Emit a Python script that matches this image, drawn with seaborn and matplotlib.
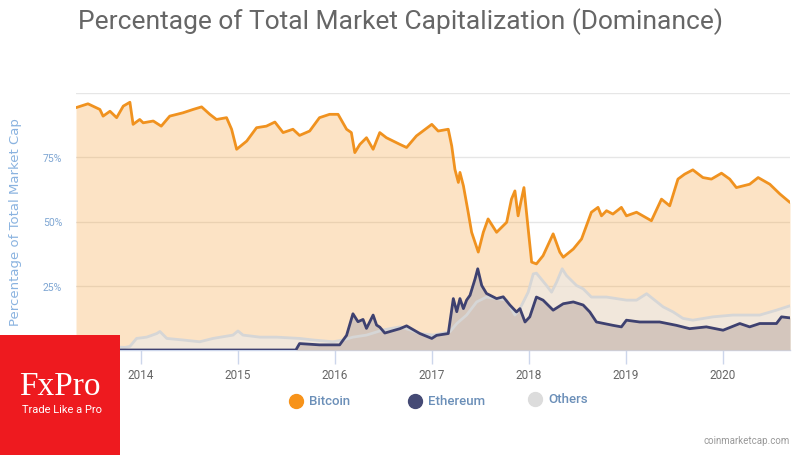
import matplotlib
matplotlib.use("Agg")
import matplotlib.pyplot as plt
from matplotlib.lines import Line2D
from matplotlib.patches import Rectangle
import pandas as pd
import seaborn as sns

# ---------------- data ----------------
btc_dates = ["2013-05-01", "2013-06-15", "2013-07-30", "2013-08-11", "2013-09-06", "2013-10-01",
             "2013-10-26", "2013-11-20", "2013-12-02", "2013-12-27", "2014-01-09", "2014-02-16",
             "2014-03-18", "2014-04-19", "2014-06-08", "2014-07-16", "2014-08-17", "2014-09-17",
             "2014-10-12", "2014-11-19", "2014-12-08", "2014-12-27", "2015-02-03", "2015-03-12",
             "2015-04-18", "2015-05-20", "2015-06-20", "2015-07-27", "2015-08-21", "2015-09-28",
             "2015-11-04", "2015-12-12", "2016-01-13", "2016-02-14", "2016-03-03", "2016-03-16",
             "2016-04-04", "2016-04-29", "2016-05-24", "2016-06-18", "2016-07-13", "2016-09-02",
             "2016-09-27", "2016-11-03", "2016-12-31", "2017-01-24", "2017-03-03", "2017-03-16",
             "2017-03-28", "2017-04-10", "2017-04-16", "2017-04-29", "2017-05-17", "2017-05-30",
             "2017-06-24", "2017-07-13", "2017-07-31", "2017-09-01", "2017-10-09", "2017-10-27",
             "2017-11-09", "2017-11-21", "2017-12-01", "2017-12-13", "2017-12-29", "2018-01-11",
             "2018-01-29", "2018-02-23", "2018-04-02", "2018-04-27", "2018-05-10", "2018-06-17",
             "2018-07-18", "2018-08-24", "2018-09-18", "2018-10-01", "2018-10-20", "2018-11-13",
             "2018-12-15", "2019-01-03", "2019-02-10", "2019-04-07", "2019-05-15", "2019-06-15",
             "2019-07-16", "2019-08-10", "2019-09-10", "2019-10-18", "2019-11-19", "2019-12-27",
             "2020-01-27", "2020-02-21", "2020-04-11", "2020-05-13", "2020-06-26", "2020-08-03",
             "2020-09-10"]
btc_values = [94.3, 95.8, 93.6, 91.0, 92.9, 90.4,
              94.9, 96.4, 87.8, 89.7, 88.4, 89.1,
              87.1, 91.0, 92.3, 93.6, 94.6, 91.7,
              89.7, 90.4, 85.9, 78.1, 81.3, 86.5,
              87.1, 88.7, 84.6, 85.9, 83.5, 85.2,
              90.4, 91.7, 91.7, 85.9, 84.6, 76.8,
              80.0, 82.6, 78.1, 84.6, 82.6, 80.0,
              78.8, 83.3, 87.8, 85.2, 85.9, 79.4,
              70.3, 65.2, 69.1, 63.9, 53.6, 45.8,
              38.1, 45.8, 51.0, 45.8, 49.7, 58.7,
              61.9, 52.2, 57.4, 63.2, 47.1, 34.2,
              33.5, 36.7, 45.2, 38.1, 36.1, 39.3,
              43.2, 53.6, 55.5, 52.2, 54.2, 52.9,
              55.5, 52.2, 53.6, 50.3, 58.7, 56.1,
              66.5, 68.4, 70.1, 67.1, 66.5, 68.8,
              66.5, 63.2, 64.5, 67.1, 64.5, 60.7,
              57.4]

eth_dates = ["2013-05-01", "2015-08-07", "2015-08-21", "2015-11-04", "2016-01-19", "2016-02-14",
             "2016-03-09", "2016-03-28", "2016-04-16", "2016-04-29", "2016-05-24", "2016-06-06",
             "2016-06-18", "2016-07-07", "2016-09-02", "2016-09-27", "2016-11-16", "2016-12-31",
             "2017-01-18", "2017-03-03", "2017-03-22", "2017-04-04", "2017-04-16", "2017-04-29",
             "2017-05-11", "2017-05-24", "2017-06-12", "2017-06-22", "2017-07-07", "2017-07-25",
             "2017-09-01", "2017-09-26", "2017-10-21", "2017-11-15", "2017-11-28", "2017-12-17",
             "2018-01-04", "2018-01-29", "2018-02-23", "2018-04-02", "2018-05-10", "2018-06-17",
             "2018-07-24", "2018-08-18", "2018-09-12", "2018-11-13", "2018-12-15", "2019-01-03",
             "2019-02-22", "2019-05-08", "2019-07-10", "2019-08-29", "2019-10-31", "2020-01-02",
             "2020-03-05", "2020-04-11", "2020-05-19", "2020-07-21", "2020-08-09", "2020-09-10"]
eth_values = [0.0, 0.0, 2.5, 2.0, 2.0, 5.7,
              14.1, 11.0, 11.9, 8.4, 13.6, 9.7,
              8.9, 6.6, 8.3, 9.4, 6.4, 4.5,
              5.7, 6.4, 20.0, 14.9, 20.0, 16.1,
              19.4, 21.3, 27.7, 31.6, 25.1, 22.0,
              20.0, 20.7, 17.5, 14.8, 16.1, 10.9,
              12.9, 20.6, 19.4, 15.5, 18.0, 18.7,
              17.5, 14.8, 10.9, 9.6, 9.0, 11.6,
              10.9, 10.9, 9.6, 8.3, 9.0, 7.7,
              10.3, 9.0, 10.3, 10.3, 12.9, 12.5]

oth_dates = ["2013-05-01", "2013-11-01", "2013-11-20", "2013-12-15", "2014-01-22", "2014-03-01",
             "2014-03-13", "2014-04-08", "2014-06-08", "2014-08-10", "2014-09-29", "2014-12-13",
             "2015-01-01", "2015-01-20", "2015-03-25", "2015-05-27", "2015-08-21", "2015-10-11",
             "2015-12-25", "2016-02-01", "2016-03-09", "2016-04-29", "2016-07-01", "2016-09-02",
             "2016-10-10", "2016-11-16", "2017-01-06", "2017-03-09", "2017-04-04", "2017-05-11",
             "2017-06-18", "2017-07-25", "2017-09-01", "2017-10-09", "2017-11-09", "2017-11-28",
             "2017-12-29", "2018-01-17", "2018-01-29", "2018-03-08", "2018-03-27", "2018-04-15",
             "2018-05-06", "2018-05-22", "2018-06-29", "2018-07-24", "2018-08-24", "2018-10-20",
             "2019-01-03", "2019-02-10", "2019-03-20", "2019-05-21", "2019-06-28", "2019-08-04",
             "2019-09-10", "2019-11-25", "2020-02-08", "2020-05-19", "2020-07-21", "2020-09-10"]
oth_values = [2.0, 1.0, 1.4, 4.5, 5.0, 6.4,
              7.2, 4.5, 3.9, 3.2, 4.5, 5.8,
              7.4, 5.8, 5.0, 5.0, 4.5, 3.9,
              3.2, 3.9, 5.0, 5.8, 7.8, 9.0,
              7.8, 6.4, 5.8, 7.1, 10.3, 13.6,
              18.7, 20.6, 20.0, 19.4, 13.6, 16.1,
              22.5, 29.6, 29.9, 25.1, 22.5, 26.4,
              31.6, 29.0, 25.1, 23.8, 20.6, 20.6,
              19.4, 19.4, 21.9, 16.8, 14.8, 12.3,
              11.6, 12.9, 13.6, 13.6, 15.5, 17.2]

series_names = ["Bitcoin", "Ethereum", "Others"]
year_ticks = ["2014", "2015", "2016", "2017", "2018", "2019", "2020"]
y_ticks = [0, 25, 50, 75, 100]
y_tick_labels = ["0%", "25%", "50%", "75%", ""]

# ---------------- styling ----------------
sns.set_theme(style="white")
FONT = ["Roboto", "DejaVu Sans"]
plt.rcParams["font.family"] = FONT

line_colors = {"Bitcoin": "#f0921f", "Ethereum": "#3e4170", "Others": "#d6d6d6"}
legend_colors = {"Bitcoin": "#f7931a", "Ethereum": "#454a75", "Others": "#dcdcdc"}

btc = pd.DataFrame({"date": pd.to_datetime(btc_dates), "value": btc_values})
eth = pd.DataFrame({"date": pd.to_datetime(eth_dates), "value": eth_values})
oth = pd.DataFrame({"date": pd.to_datetime(oth_dates), "value": oth_values})

fig = plt.figure(figsize=(8, 4.56), dpi=100)
ax = fig.add_axes([76 / 800, 1 - 351 / 456, 714 / 800, 257 / 456])

# grid
ax.set_axisbelow(True)
ax.yaxis.grid(True, color="#e6e6e6", linewidth=1)
ax.xaxis.grid(False)

# fills
ax.fill_between(btc["date"], 0, btc["value"], color="#f7931a", alpha=0.25, linewidth=0, zorder=1)
ax.fill_between(oth["date"], 0, oth["value"], color="#ebebeb", alpha=0.6, linewidth=0, zorder=2)
ax.fill_between(eth["date"], 0, eth["value"], color="#d2c4bb", alpha=0.92, linewidth=0, zorder=3)

# lines
sns.lineplot(data=oth, x="date", y="value", color=line_colors["Others"], linewidth=2, ax=ax, zorder=4)
sns.lineplot(data=eth, x="date", y="value", color=line_colors["Ethereum"], linewidth=2, ax=ax, zorder=5)
sns.lineplot(data=btc, x="date", y="value", color=line_colors["Bitcoin"], linewidth=2, ax=ax, zorder=6)

ax.set_xlim(btc["date"].min(), btc["date"].max())
ax.set_ylim(0, 100)

ax.set_xticks(pd.to_datetime([f"{y}-01-01" for y in year_ticks]))
ax.set_xticklabels(year_ticks)
ax.set_yticks(y_ticks)
ax.set_yticklabels(y_tick_labels)

ax.tick_params(axis="x", colors="#ccd6eb", labelcolor="#666666", labelsize=8.5,
               length=10, width=1, direction="out", bottom=True, pad=3)
ax.tick_params(axis="y", labelcolor="#7ea6d3", labelsize=7.5, length=0, pad=10)

for side in ["top", "right", "left"]:
    ax.spines[side].set_visible(False)
ax.spines["bottom"].set_color("#ccd6eb")
ax.spines["bottom"].set_linewidth(1)

ax.set_xlabel("")
ax.set_ylabel("Percentage of Total Market Cap", color="#8ab3e0", fontsize=9.5,
              family=["DejaVu Sans"], fontweight="normal")
ax.yaxis.set_label_coords(-54 / 714, 0.5)

# title
fig.text(0.5, 1 - 22 / 456, "Percentage of Total Market Capitalization (Dominance)",
         ha="center", va="center", fontsize=19, color="#666666", family=FONT)

# legend (fixed-width items like the reference)
marker_x = [296, 415, 535]
marker_y = [402, 402, 400]
for name, mx, my in zip(series_names, marker_x, marker_y):
    fig.add_artist(Line2D([mx / 800], [1 - my / 456], transform=fig.transFigure, marker="o",
                          linestyle="", markersize=10, markerfacecolor=legend_colors[name],
                          markeredgecolor=legend_colors[name]))
    fig.text((mx + 13) / 800, 1 - my / 456, name, ha="left", va="center", fontsize=9.5,
             fontweight="medium", color="#6b8fb8", family=FONT)

# source
fig.text(790 / 800, 1 - 441 / 456, "coinmarketcap.com", ha="right", va="center",
         fontsize=7, color="#999999", family=FONT)

# brand box
fig.add_artist(Rectangle((0, 0), 120 / 800, 120 / 456, transform=fig.transFigure,
                         facecolor="#ee1a1f", edgecolor="none", zorder=20))
fig.text(60 / 800, 1 - 387 / 456, "FxPro", ha="center", va="center", fontsize=24,
         color="white", family=["Liberation Serif", "DejaVu Serif"], zorder=21)
fig.text(62 / 800, 1 - 410 / 456, "Trade Like a Pro", ha="center", va="center", fontsize=8,
         color="white", family=FONT, zorder=21)

fig.savefig("out.png", dpi=100)
